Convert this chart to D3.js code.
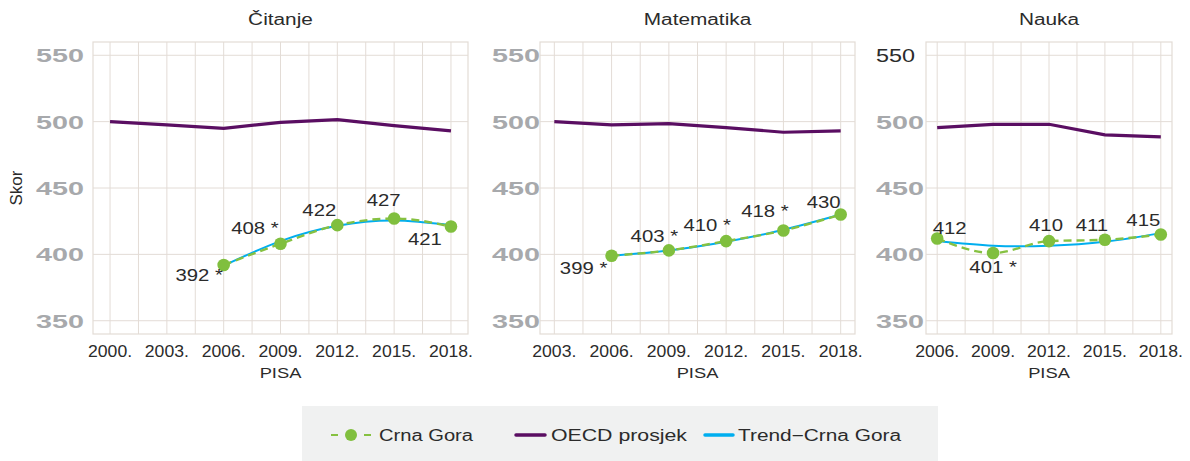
<!DOCTYPE html>
<html>
<head>
<meta charset="utf-8">
<script src="https://cdn.jsdelivr.net/npm/d3@7"></script>
<style>
  body { margin: 0; background: #fff; }
  svg { display: block; font-family: "Liberation Sans", Arial, sans-serif; }
</style>
</head>
<body>
<svg id="chart" width="1190" height="461"></svg>
<script>
// PISA scores, Crna Gora vs OECD
var subjects = ["Čitanje", "Matematika", "Nauka"];

var readingYears = [2000, 2003, 2006, 2009, 2012, 2015, 2018];
var readingOecd = [500, 497.5, 495, 499.5, 501.5, 497, 493];
var mathYears = [2003, 2006, 2009, 2012, 2015, 2018];
var mathOecd = [500, 497.5, 498.5, 495.5, 492, 493];
var scienceYears = [2006, 2009, 2012, 2015, 2018];
var scienceOecd = [495.5, 498, 498, 490, 488.5];

var cgYears = [2006, 2009, 2012, 2015, 2018];
var readingCg = [392, 408, 422, 427, 421];
var mathCg = [399, 403, 410, 418, 430];
var scienceCg = [412, 401, 410, 411, 415];
// * = significant difference vs 2018
var readingSig = [true, true, false, false, false];
var mathSig = [true, true, true, true, false];
var scienceSig = [false, true, false, false, false];
// trend line read at each cycle
var readingTrend = [391.5, 410, 421.5, 425.5, 422];
var mathTrend = [399, 403, 409.5, 418.5, 430];
var scienceTrend = [410, 406.5, 406.5, 409.5, 416];

var yTicks = [350, 400, 450, 500, 550];
var xTickLabels = [readingYears, mathYears, scienceYears];

// label nudges (dx, dy) relative to the point
var labelNudge = [
  [[-24.5, 16], [-25.5, -10], [-18, -9], [-10.5, -13], [-26, 19]],
  [[-28, 18], [-14.5, -8], [-19, -10], [-18.5, -13], [-17, -7]],
  [[12.5, -4], [0, 20], [-3, -10], [-13, -9], [-17.5, -8]]
];

var panels = [
  { title: subjects[0], years: readingYears, oecd: readingOecd, cg: readingCg, sig: readingSig, trend: readingTrend, left: 93, right: 468, labX: 36 },
  { title: subjects[1], years: mathYears, oecd: mathOecd, cg: mathCg, sig: mathSig, trend: mathTrend, left: 540, right: 855, labX: 492 },
  { title: subjects[2], years: scienceYears, oecd: scienceOecd, cg: scienceCg, sig: scienceSig, trend: scienceTrend, left: 926, right: 1172, labX: 876 }
];

var plotTop = 42, plotBottom = 334;
var gridCol = "#e3dcd6", textCol = "#2b2b2b", tickGrey = "#a7a9ac";
var green = "#86c141", purple = "#5a0e62", blue = "#00aeef";

var svg = d3.select("#chart");

function stretch(sel, k) {
  sel.each(function () {
    var w = this.getComputedTextLength();
    d3.select(this).attr("textLength", w * k).attr("lengthAdjust", "spacingAndGlyphs");
  });
}

var y = d3.scaleLinear().domain([340, 560]).range([plotBottom, plotTop]);

panels.forEach(function (p, pi) {
  var first = p.years[0], last = p.years[p.years.length - 1];
  var pad = (last - first) * 0.05;
  var x = d3.scaleLinear().domain([first - pad, last + pad]).range([p.left, p.right]);
  var g = svg.append("g");

  // grid
  var vlines = d3.range(first, last + 0.01, 1.5);
  g.selectAll(".vg").data(vlines).enter().append("line")
    .attr("x1", function (d) { return x(d); }).attr("x2", function (d) { return x(d); })
    .attr("y1", plotTop).attr("y2", plotBottom)
    .attr("stroke", gridCol).attr("stroke-width", 1);
  g.selectAll(".hg").data(yTicks).enter().append("line")
    .attr("x1", p.left).attr("x2", p.right)
    .attr("y1", function (d) { return y(d); }).attr("y2", function (d) { return y(d); })
    .attr("stroke", gridCol).attr("stroke-width", 1);
  g.append("rect")
    .attr("x", p.left).attr("y", plotTop)
    .attr("width", p.right - p.left).attr("height", plotBottom - plotTop)
    .attr("fill", "none").attr("stroke", gridCol).attr("stroke-width", 1.2);

  // y tick labels
  g.selectAll(".yl").data(yTicks).enter().append("text")
    .attr("x", p.labX)
    .attr("y", function (d) { return y(d) + 7; })
    .attr("font-size", 19)
    .attr("font-weight", function (d) { return (pi == 2 && d == 550) ? "normal" : "bold"; })
    .attr("fill", function (d) { return (pi == 2 && d == 550) ? textCol : tickGrey; })
    .attr("textLength", function (d) { return (pi == 2 && d == 550) ? 39 : 48; })
    .attr("lengthAdjust", "spacingAndGlyphs")
    .text(function (d) { return d; });

  // x tick labels
  g.selectAll(".xl").data(xTickLabels[pi]).enter().append("text")
    .attr("x", function (d) { return x(d); })
    .attr("y", 357)
    .attr("text-anchor", "middle")
    .attr("font-size", 16)
    .attr("fill", textCol)
    .text(function (d) { return d + "."; })
    .call(stretch, 1.1);

  g.append("text")
    .attr("x", (p.left + p.right) / 2).attr("y", 378)
    .attr("text-anchor", "middle").attr("font-size", 15).attr("fill", textCol)
    .text("PISA").call(stretch, 1.22);

  g.append("text")
    .attr("x", (p.left + p.right) / 2).attr("y", 25)
    .attr("text-anchor", "middle").attr("font-size", 16).attr("fill", textCol)
    .text(p.title).call(stretch, 1.3);

  // OECD average
  var oecdLine = d3.line()
    .x(function (d, i) { return x(p.years[i]); })
    .y(function (d) { return y(d); });
  g.append("path").datum(p.oecd)
    .attr("d", oecdLine)
    .attr("fill", "none").attr("stroke", purple).attr("stroke-width", 3.2);

  // trend
  var trendLine = d3.line()
    .x(function (d, i) { return x(cgYears[i]); })
    .y(function (d) { return y(d); })
    .curve(d3.curveNatural);
  g.append("path").datum(p.trend)
    .attr("d", trendLine)
    .attr("fill", "none").attr("stroke", blue).attr("stroke-width", 2);

  // Crna Gora
  var cgLine = d3.line()
    .x(function (d, i) { return x(cgYears[i]); })
    .y(function (d) { return y(d); })
    .curve(d3.curveMonotoneX);
  g.append("path").datum(p.cg)
    .attr("d", cgLine)
    .attr("fill", "none").attr("stroke", green).attr("stroke-width", 2.4)
    .attr("stroke-dasharray", "8,5");

  g.selectAll(".pt").data(p.cg).enter().append("circle")
    .attr("cx", function (d, i) { return x(cgYears[i]); })
    .attr("cy", function (d) { return y(d); })
    .attr("r", 6.3)
    .attr("fill", "#80bf3e");

  g.selectAll(".vl").data(p.cg).enter().append("text")
    .attr("x", function (d, i) { return x(cgYears[i]) + labelNudge[pi][i][0]; })
    .attr("y", function (d, i) { return y(d) + labelNudge[pi][i][1]; })
    .attr("text-anchor", "middle")
    .attr("font-size", 16)
    .attr("fill", textCol)
    .text(function (d, i) { return d + (p.sig[i] ? " *" : ""); })
    .call(stretch, 1.27);
});

// y axis title
svg.append("text")
  .attr("transform", "translate(22," + ((plotTop + plotBottom) / 2) + ") rotate(-90)")
  .attr("text-anchor", "middle").attr("font-size", 17).attr("fill", textCol)
  .text("Skor");

// legend
var lg = svg.append("g");
lg.append("rect").attr("x", 302).attr("y", 406).attr("width", 636).attr("height", 60).attr("fill", "#f0f1f1");
lg.append("line").attr("x1", 331).attr("x2", 371).attr("y1", 435).attr("y2", 435)
  .attr("stroke", green).attr("stroke-width", 2).attr("stroke-dasharray", "7,26");
lg.append("circle").attr("cx", 351).attr("cy", 435).attr("r", 6).attr("fill", "#80bf3e");
lg.append("line").attr("x1", 516).attr("x2", 545).attr("y1", 435).attr("y2", 435)
  .attr("stroke", purple).attr("stroke-width", 3.5).attr("stroke-linecap", "round");
lg.append("line").attr("x1", 705).attr("x2", 733).attr("y1", 435).attr("y2", 435)
  .attr("stroke", blue).attr("stroke-width", 3.5).attr("stroke-linecap", "round");
var legendItems = [["Crna Gora", 379, 94], ["OECD prosjek", 551, 136], ["Trend\u2212Crna Gora", 738, 163]];
lg.selectAll(".lt").data(legendItems).enter().append("text")
  .attr("x", function (d) { return d[1]; })
  .attr("y", 441)
  .attr("font-size", 16)
  .attr("fill", textCol)
  .attr("textLength", function (d) { return d[2]; })
  .attr("lengthAdjust", "spacingAndGlyphs")
  .text(function (d) { return d[0]; });
</script>
</body>
</html>
